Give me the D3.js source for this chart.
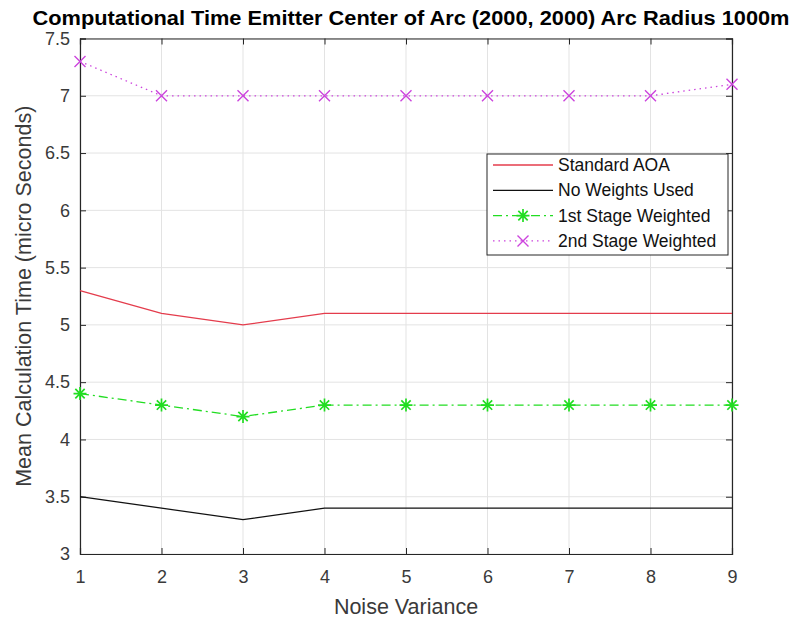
<!DOCTYPE html>
<html>
<head>
<meta charset="utf-8">
<script src="https://cdn.jsdelivr.net/npm/d3@7"></script>
<style>
  html, body { margin: 0; padding: 0; background: #fff; }
  svg { display: block; font-family: "Liberation Sans", Arial, sans-serif; }
</style>
</head>
<body>
<svg id="chart" width="796" height="619"></svg>
<script>
// Noise variance levels along the x axis
const noiseVariance = [1, 2, 3, 4, 5, 6, 7, 8, 9];

// Mean calculation time per method (micro seconds)
const standardAOA   = [5.3, 5.1, 5.0, 5.1, 5.1, 5.1, 5.1, 5.1, 5.1];
const noWeights     = [3.5, 3.4, 3.3, 3.4, 3.4, 3.4, 3.4, 3.4, 3.4];
const firstStage    = [4.4, 4.3, 4.2, 4.3, 4.3, 4.3, 4.3, 4.3, 4.3];
const secondStage   = [7.3, 7.0, 7.0, 7.0, 7.0, 7.0, 7.0, 7.0, 7.1];

const xTicks = [1, 2, 3, 4, 5, 6, 7, 8, 9];
const yTicks = [3, 3.5, 4, 4.5, 5, 5.5, 6, 6.5, 7, 7.5];

const seriesNames = ["Standard AOA", "No Weights Used", "1st Stage Weighted", "2nd Stage Weighted"];

const series = [
  { name: seriesNames[0], values: standardAOA, color: "#e43c4c", dash: null, marker: null, width: 1.3 },
  { name: seriesNames[1], values: noWeights,   color: "#111111", dash: null, marker: null, width: 1.3 },
  { name: seriesNames[2], values: firstStage,  color: "#22dd22", dash: "9,4,2,4", marker: "star", width: 1.3 },
  { name: seriesNames[3], values: secondStage, color: "#cc44dd", dash: "1.5,4", marker: "x", width: 1.3 }
];

const svg = d3.select("#chart");
const plot = { left: 80, right: 732, top: 38.5, bottom: 554 };

const x = d3.scaleLinear().domain([1, 9]).range([plot.left, plot.right]);
const y = d3.scaleLinear().domain([3, 7.5]).range([plot.bottom, plot.top]);

const axisColor = "#262626";
const labelColor = "#3a3a3a";
const gridColor = "#e3e3e3";

// grid lines
const grid = svg.append("g");
grid.selectAll("line.vx").data(xTicks).join("line")
  .attr("x1", d => x(d)).attr("x2", d => x(d))
  .attr("y1", plot.top).attr("y2", plot.bottom)
  .attr("stroke", gridColor).attr("stroke-width", 1);
grid.selectAll("line.hy").data(yTicks).join("line")
  .attr("x1", plot.left).attr("x2", plot.right)
  .attr("y1", d => y(d)).attr("y2", d => y(d))
  .attr("stroke", gridColor).attr("stroke-width", 1);

// axes with inward ticks on all four sides
const tickLen = 6;
const xAxisB = d3.axisBottom(x).tickValues(xTicks).tickSize(-tickLen).tickPadding(16).tickFormat(d3.format("d"));
const xAxisT = d3.axisTop(x).tickValues(xTicks).tickSize(-tickLen).tickFormat("");
const yAxisL = d3.axisLeft(y).tickValues(yTicks).tickSize(-tickLen).tickPadding(10).tickFormat(d => String(d));
const yAxisR = d3.axisRight(y).tickValues(yTicks).tickSize(-tickLen).tickFormat("");

function styleAxis(g) {
  g.select(".domain").attr("stroke", axisColor).attr("stroke-width", 1.2);
  g.selectAll(".tick line").attr("stroke", axisColor).attr("stroke-width", 1);
  g.selectAll(".tick text").attr("fill", labelColor).style("font-size", "18px")
    .style("font-family", '"Liberation Sans", Arial, sans-serif');
}

svg.append("g").attr("transform", `translate(0,${plot.bottom})`).call(xAxisB).call(styleAxis);
svg.append("g").attr("transform", `translate(0,${plot.top})`).call(xAxisT).call(styleAxis);
svg.append("g").attr("transform", `translate(${plot.left},0)`).call(yAxisL).call(styleAxis);
svg.append("g").attr("transform", `translate(${plot.right},0)`).call(yAxisR).call(styleAxis);

// data lines
const line = d3.line().x((d, i) => x(noiseVariance[i])).y(d => y(d));
const lines = svg.append("g");
series.forEach(s => {
  lines.append("path")
    .attr("d", line(s.values))
    .attr("fill", "none")
    .attr("stroke", s.color)
    .attr("stroke-width", s.width)
    .attr("stroke-dasharray", s.dash);
});

function drawMarker(g, type, cx, cy, color) {
  if (type === "x") {
    const r = 5.5;
    g.append("path")
      .attr("d", `M${cx - r},${cy - r}L${cx + r},${cy + r}M${cx - r},${cy + r}L${cx + r},${cy - r}`)
      .attr("stroke", color).attr("stroke-width", 1.4).attr("fill", "none");
  } else if (type === "star") {
    const r = 6.5, d = r * 0.72;
    g.append("path")
      .attr("d", `M${cx - r},${cy}L${cx + r},${cy}M${cx},${cy - r}L${cx},${cy + r}` +
                 `M${cx - d},${cy - d}L${cx + d},${cy + d}M${cx - d},${cy + d}L${cx + d},${cy - d}`)
      .attr("stroke", color).attr("stroke-width", 1.7).attr("fill", "none");
  }
}

const markers = svg.append("g");
series.filter(s => s.marker).forEach(s => {
  s.values.forEach((v, i) => drawMarker(markers, s.marker, x(noiseVariance[i]), y(v), s.color));
});

// legend
const legend = svg.append("g");
const lg = { x: 487, y: 154, w: 241, h: 101 };
legend.append("rect")
  .attr("x", lg.x).attr("y", lg.y).attr("width", lg.w).attr("height", lg.h)
  .attr("fill", "#fff").attr("stroke", axisColor).attr("stroke-width", 1);
series.forEach((s, i) => {
  const ry = lg.y + 11 + i * 25.3;
  legend.append("line")
    .attr("x1", lg.x + 6).attr("x2", lg.x + 66)
    .attr("y1", ry).attr("y2", ry)
    .attr("stroke", s.color).attr("stroke-width", s.width)
    .attr("stroke-dasharray", s.dash);
  if (s.marker) drawMarker(legend, s.marker, lg.x + 36, ry, s.color);
  legend.append("text")
    .attr("x", lg.x + 71).attr("y", ry)
    .attr("dy", "0.35em")
    .attr("fill", "#111")
    .style("font-size", "17.5px")
    .text(s.name);
});

// title and axis labels
svg.append("text")
  .attr("x", 411).attr("y", 25)
  .attr("text-anchor", "middle")
  .attr("fill", "#000")
  .attr("textLength", 757)
  .attr("lengthAdjust", "spacingAndGlyphs")
  .style("font-size", "20px").style("font-weight", "bold")
  .text("Computational Time Emitter Center of Arc (2000, 2000) Arc Radius 1000m");

svg.append("text")
  .attr("x", 406).attr("y", 614)
  .attr("text-anchor", "middle")
  .attr("fill", labelColor)
  .style("font-size", "21.5px")
  .text("Noise Variance");

svg.append("text")
  .attr("transform", `translate(31,${(plot.top + plot.bottom) / 2}) rotate(-90)`)
  .attr("text-anchor", "middle")
  .attr("fill", labelColor)
  .style("font-size", "21.5px")
  .text("Mean Calculation Time (micro Seconds)");
</script>
</body>
</html>
